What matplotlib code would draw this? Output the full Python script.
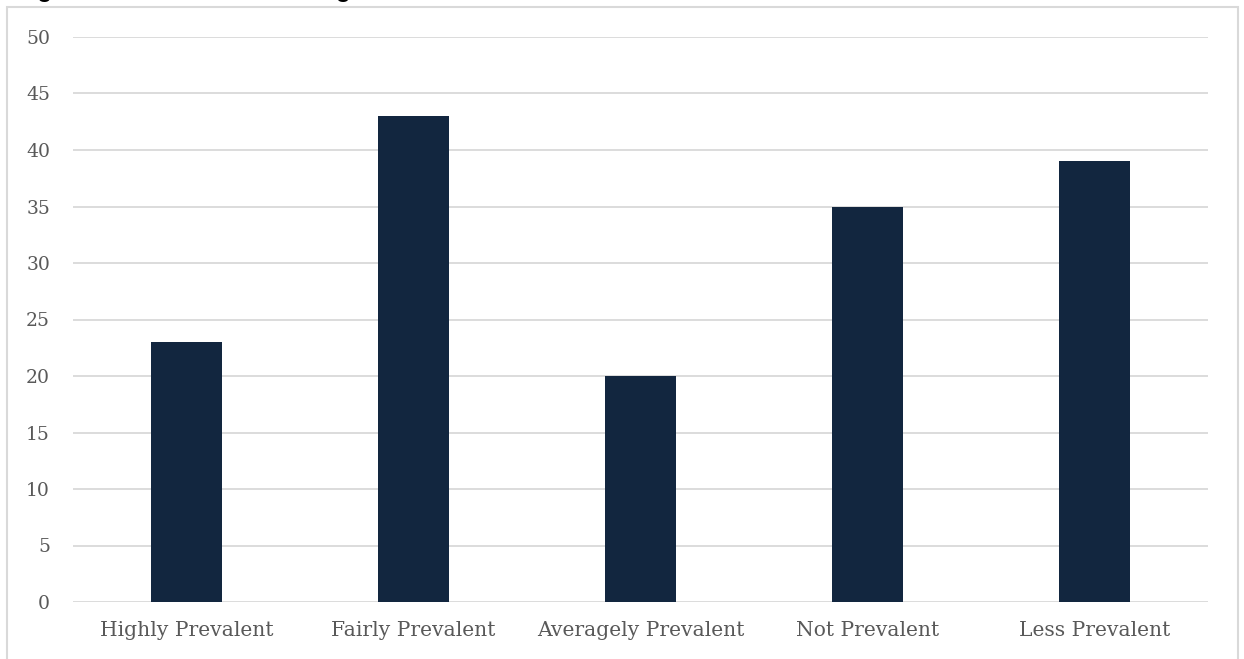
import matplotlib.pyplot as plt
from matplotlib.patches import Rectangle

categories = ["Highly Prevalent", "Fairly Prevalent", "Averagely Prevalent", "Not Prevalent", "Less Prevalent"]
values = [23, 43, 20, 35, 39]
y_ticks = [0, 5, 10, 15, 20, 25, 30, 35, 40, 45, 50]
title = "Figure 4.10: The Rate of Drug Abuse in the Area"

W, H = 1244, 659
fig = plt.figure(figsize=(W / 100, H / 100), dpi=100)

# chart area border (bottom runs off the image)
fig.patches.append(Rectangle((7 / W, -0.05), (1238 - 7) / W, 1.05 - 7 / H,
                             transform=fig.transFigure, fill=False,
                             edgecolor="#d9d9d9", linewidth=1.5))

# title is cut off at the top in the reference; only descenders show
fig.text(16 / W, 1 + 3 / H, title, ha="left", va="baseline",
         fontsize=17.3, fontweight="bold", family="Liberation Sans", color="black")

ax = fig.add_axes([73 / W, (H - 602) / H, (1208 - 73) / W, (602 - 37) / H])
ax.bar(range(len(categories)), values, width=0.317, color="#12263f", zorder=3)
ax.set_xlim(-0.5, len(categories) - 0.5)
ax.set_ylim(0, 50)
ax.set_yticks(y_ticks)
ax.set_xticks(range(len(categories)))
ax.set_xticklabels(categories)
ax.yaxis.grid(True, color="#d9d9d9", linewidth=1.3)
ax.set_axisbelow(True)
for s in ax.spines.values():
    s.set_visible(False)
ax.tick_params(length=0, labelcolor="#595959")
ax.tick_params(axis="y", pad=16.5, labelsize=13.5)
ax.tick_params(axis="x", pad=14, labelsize=14.6)
for lab in ax.get_xticklabels() + ax.get_yticklabels():
    lab.set_family("DejaVu Serif")

fig.savefig("out.png", dpi=100)
